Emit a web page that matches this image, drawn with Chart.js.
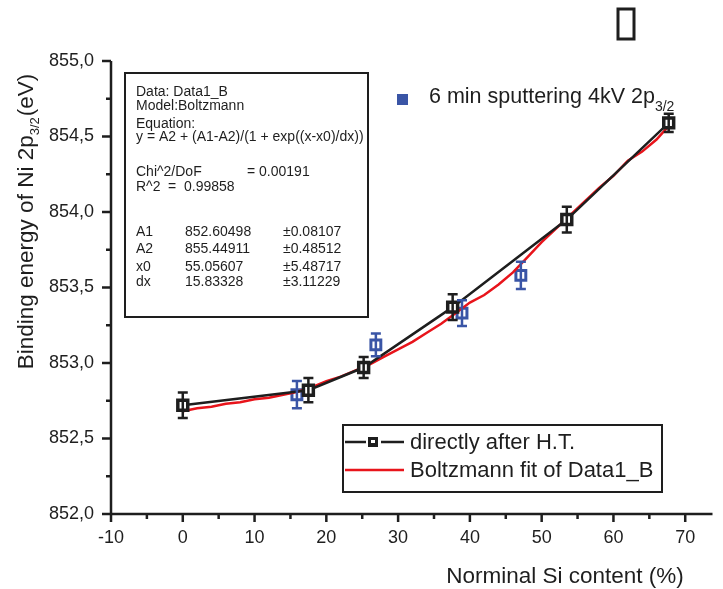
<!DOCTYPE html>
<html>
<head>
<meta charset="utf-8">
<script src="https://cdn.jsdelivr.net/npm/chart.js@4.4.1/dist/chart.umd.min.js"></script>
<style>
  body { margin: 0; background: #fff; }
  canvas { display: block; }
</style>
</head>
<body>
<canvas id="chart1" width="723" height="589"></canvas>
<script>
// data
const htX = [0, 17.5, 25.2, 37.6, 53.5, 67.7];
const htY = [852.72, 852.82, 852.97, 853.37, 853.95, 854.59];
const htErr = [0.085, 0.08, 0.07, 0.085, 0.085, 0.06];

const spX = [15.9, 26.9, 38.9, 47.1];
const spY = [852.79, 853.12, 853.33, 853.58];
const spErr = [0.09, 0.075, 0.085, 0.09];

const fitX = [0, 2, 4, 6, 8, 10, 12, 14, 16, 18, 20, 22, 24, 26, 28, 30, 32, 34,
  36, 38, 40, 42, 44, 46, 48, 50, 52, 54, 56, 58, 60, 62, 64, 66, 67.7];
const fitY = [852.68, 852.70, 852.71, 852.73, 852.74, 852.76, 852.77, 852.79, 852.81,
  852.84, 852.88, 852.91, 852.95, 852.99, 853.04, 853.09, 853.14, 853.20, 853.26,
  853.33, 853.40, 853.45, 853.52, 853.60, 853.70, 853.80, 853.89, 853.98, 854.07,
  854.16, 854.24, 854.34, 854.40, 854.48, 854.57];

const xTicks = [-10, 0, 10, 20, 30, 40, 50, 60, 70];
const xMinor = [-5, 5, 15, 25, 35, 45, 55, 65];
const yTicks = [852.0, 852.5, 853.0, 853.5, 854.0, 854.5, 855.0];
const yMinor = [852.25, 852.75, 853.25, 853.75, 854.25, 854.75];

const fitLines = [
  ['Data: Data1_B', 92],
  ['Model:Boltzmann', 106],
  ['Equation:', 124],
  ['y = A2 + (A1-A2)/(1 + exp((x-x0)/dx))', 137]
];
const fitStats = [
  ['Chi^2/DoF', '= 0.00191', 172, 247],
  ['R^2', '=  0.99858', 187, 168]
];
const fitParams = [
  ['A1', '852.60498', '\u00b10.08107', 232],
  ['A2', '855.44911', '\u00b10.48512', 249],
  ['x0', '55.05607', '\u00b15.48717', 267],
  ['dx', '15.83328', '\u00b13.11229', 282]
];

const FONT = '"Liberation Sans", Arial, sans-serif';
const BLACK = '#1e1e1e';
const RED = '#e8141b';
const BLUE = '#3a55a6';

const toPts = (xs, ys) => xs.map((x, i) => ({ x: x, y: ys[i] }));

// axes, ticks, error bars and all the text
const decor = {
  id: 'decor',
  afterDatasetsDraw(chart) {
    const ctx = chart.ctx;
    const xs = chart.scales.x, ys = chart.scales.y;

    // error bars
    const errBars = (xv, yv, ev, color) => {
      ctx.save();
      ctx.strokeStyle = color;
      ctx.lineWidth = 2.5;
      xv.forEach((x, i) => {
        const px = xs.getPixelForValue(x);
        const top = ys.getPixelForValue(yv[i] + ev[i]);
        const bot = ys.getPixelForValue(yv[i] - ev[i]);
        ctx.beginPath();
        ctx.moveTo(px, top); ctx.lineTo(px, bot);
        ctx.moveTo(px - 5, top); ctx.lineTo(px + 5, top);
        ctx.moveTo(px - 5, bot); ctx.lineTo(px + 5, bot);
        ctx.stroke();
      });
      ctx.restore();
    };
    errBars(htX, htY, htErr, BLACK);
    errBars(spX, spY, spErr, BLUE);
  },
  afterDraw(chart) {
    const ctx = chart.ctx;
    const xs = chart.scales.x, ys = chart.scales.y;
    const a = chart.chartArea;
    ctx.save();
    ctx.strokeStyle = BLACK;
    ctx.fillStyle = BLACK;
    ctx.lineWidth = 2.5;

    // axis lines
    ctx.beginPath();
    ctx.moveTo(a.left, a.top); ctx.lineTo(a.left, a.bottom);
    ctx.moveTo(a.left, a.bottom); ctx.lineTo(a.right, a.bottom);
    ctx.stroke();

    // ticks
    ctx.beginPath();
    xTicks.forEach(v => { const p = xs.getPixelForValue(v); ctx.moveTo(p, a.bottom); ctx.lineTo(p, a.bottom + 8); });
    xMinor.forEach(v => { const p = xs.getPixelForValue(v); ctx.moveTo(p, a.bottom); ctx.lineTo(p, a.bottom + 5); });
    yTicks.forEach(v => { const p = ys.getPixelForValue(v); ctx.moveTo(a.left - 9, p); ctx.lineTo(a.left, p); });
    yMinor.forEach(v => { const p = ys.getPixelForValue(v); ctx.moveTo(a.left - 5, p); ctx.lineTo(a.left, p); });
    ctx.stroke();

    // tick labels
    ctx.font = '18px ' + FONT;
    ctx.textAlign = 'center';
    ctx.textBaseline = 'middle';
    xTicks.forEach(v => ctx.fillText(String(v), xs.getPixelForValue(v), 538));
    ctx.textAlign = 'right';
    yTicks.forEach(v => ctx.fillText(v.toFixed(1).replace('.', ','), 94, ys.getPixelForValue(v)));

    // x title
    ctx.font = '22.5px ' + FONT;
    ctx.textAlign = 'center';
    ctx.fillText('Norminal Si content (%)', 565, 577);

    // y title with subscript
    ctx.save();
    ctx.translate(27, 222);
    ctx.rotate(-Math.PI / 2);
    ctx.textBaseline = 'middle';
    ctx.textAlign = 'left';
    const t1 = 'Binding energy of Ni 2p', sub = '3/2', t2 = '(eV)';
    ctx.font = '22.5px ' + FONT;
    const w1 = ctx.measureText(t1).width, w3 = ctx.measureText(t2).width;
    ctx.font = '13px ' + FONT;
    const w2 = ctx.measureText(sub).width;
    const sx = -(w1 + w2 + w3) / 2;
    ctx.font = '22.5px ' + FONT;
    ctx.fillText(t1, sx, 0);
    ctx.font = '13px ' + FONT;
    ctx.fillText(sub, sx + w1, 8);
    ctx.font = '22.5px ' + FONT;
    ctx.fillText(t2, sx + w1 + w2 + 1, 0);
    ctx.restore();

    // fit parameter box
    ctx.lineWidth = 2;
    ctx.strokeRect(125, 73, 243, 244);
    ctx.font = '14px ' + FONT;
    ctx.textAlign = 'left';
    fitLines.forEach(l => ctx.fillText(l[0], 136, l[1]));
    fitStats.forEach(l => { ctx.fillText(l[0], 136, l[2]); ctx.fillText(l[1], l[3], l[2]); });
    fitParams.forEach(l => {
      ctx.fillText(l[0], 136, l[3]);
      ctx.fillText(l[1], 185, l[3]);
      ctx.fillText(l[2], 283, l[3]);
    });

    // blue series label
    ctx.fillStyle = BLUE;
    ctx.fillRect(397, 94, 11, 11);
    ctx.fillStyle = BLACK;
    ctx.font = '21.5px ' + FONT;
    const lab = '6 min sputtering 4kV 2p';
    ctx.fillText(lab, 429, 97);
    const lw = ctx.measureText(lab).width;
    ctx.font = '14px ' + FONT;
    ctx.fillText('3/2', 429 + lw, 107);

    // legend
    ctx.lineWidth = 2;
    ctx.strokeRect(343, 425, 319, 67);
    ctx.lineWidth = 2.5;
    ctx.beginPath();
    ctx.moveTo(345, 442); ctx.lineTo(366, 442);
    ctx.moveTo(381, 442); ctx.lineTo(404, 442);
    ctx.stroke();
    ctx.fillStyle = BLACK;
    ctx.fillRect(368, 437, 10, 10);
    ctx.fillStyle = '#fff';
    ctx.fillRect(371, 440, 4, 3);
    ctx.strokeStyle = RED;
    ctx.lineWidth = 2.5;
    ctx.beginPath();
    ctx.moveTo(345, 470); ctx.lineTo(404, 470);
    ctx.stroke();
    ctx.fillStyle = BLACK;
    ctx.font = '22px ' + FONT;
    ctx.fillText('directly after H.T.', 410, 443);
    ctx.fillText('Boltzmann fit of Data1_B', 410, 471);

    // missing glyph box at top right
    ctx.strokeStyle = BLACK;
    ctx.lineWidth = 3;
    ctx.strokeRect(618, 9, 16, 30);
    ctx.restore();
  }
};

new Chart(document.getElementById('chart1').getContext('2d'), {
  type: 'scatter',
  data: {
    datasets: [
      {
        label: 'directly after H.T.',
        data: toPts(htX, htY),
        showLine: true,
        borderColor: BLACK,
        borderWidth: 2.5,
        pointStyle: 'rect',
        pointRadius: 7,
        pointBorderWidth: 3.5,
        pointBackgroundColor: '#fff',
        pointBorderColor: BLACK
      },
      {
        label: 'Boltzmann fit of Data1_B',
        data: toPts(fitX, fitY),
        showLine: true,
        borderColor: RED,
        borderWidth: 2.5,
        pointRadius: 0
      },
      {
        label: '6 min sputtering 4kV 2p3/2',
        data: toPts(spX, spY),
        showLine: false,
        pointStyle: 'rect',
        pointRadius: 7,
        pointBorderWidth: 3,
        pointBackgroundColor: '#fff',
        pointBorderColor: BLUE
      }
    ]
  },
  options: {
    responsive: false,
    animation: false,
    layout: { padding: { left: 111, top: 61, right: 0, bottom: 75 } },
    plugins: { legend: { display: false }, tooltip: { enabled: false } },
    scales: {
      x: { type: 'linear', min: -10, max: 73.8, display: false },
      y: { type: 'linear', min: 852, max: 855, display: false }
    }
  },
  plugins: [decor]
});
</script>
</body>
</html>
